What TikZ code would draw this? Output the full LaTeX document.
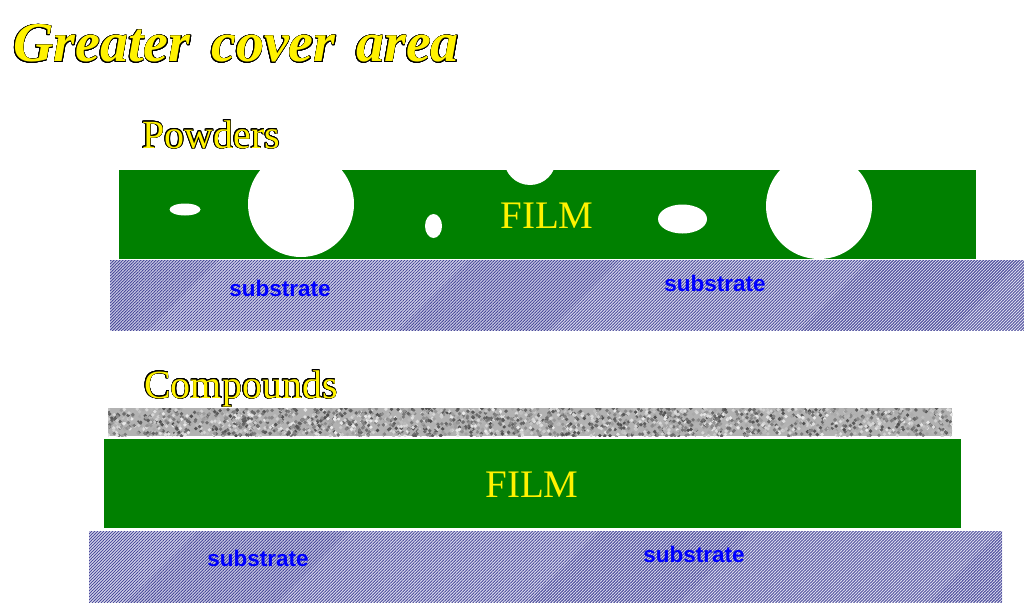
\documentclass[tikz,border=0pt]{standalone}
\usepackage{fontspec}
\setmainfont{Liberation Serif}
\newfontfamily\arialb{Liberation Sans}[Scale=1]
\usepackage{contour}
\usetikzlibrary{patterns,patterns.meta}
\definecolor{filmgreen}{RGB}{0,128,0}
\definecolor{hatchblue}{RGB}{75,75,155}
\definecolor{hatchbg}{RGB}{222,222,240}
\definecolor{labelblue}{RGB}{0,0,255}
\contourlength{0.6pt}
\contournumber{24}
\tikzset{
  film/.style={fill=filmgreen, draw=none},
  subst/.style={fill=hatchbg, draw=none, postaction={pattern={Lines[angle=45, distance=2.12pt, line width=0.95pt]}, pattern color=hatchblue}},
  hole/.style={fill=white, draw=none},
  filmtext/.style={text=yellow, font=\fontsize{39}{39}\selectfont, inner sep=0pt},
  sublabel/.style={text=labelblue, font=\arialb\bfseries\fontsize{22.5}{22.5}\selectfont, inner sep=0pt},
  heading/.style={font=\fontsize{40}{40}\selectfont, inner sep=0pt, anchor=base west},
}
\newcommand{\outl}[1]{\contour{black}{\textcolor{yellow}{#1}}}
\begin{document}
\begin{tikzpicture}[x=1pt,y=-1pt]
\useasboundingbox (0,0) rectangle (1024,602);
% title
\node[inner sep=0pt, anchor=base west, font=\bfseries\itshape\fontsize{56}{56}\selectfont] (title) at (13,62) {\outl{Greater\hspace{0.12em} cover\hspace{0.12em} area}};
% ===== Powders =====
\node[heading] (powders) at (142,148) {\outl{Powders}};
\path[subst] (110,260) rectangle (1024,330);
\fill[film] (119,170) rectangle (976,259);
\fill[hole] (185,209.5) ellipse [x radius=15.5, y radius=6];
\fill[hole] (301,204) circle (53);
\fill[hole] (433.5,226) ellipse [x radius=8.5, y radius=12];
\fill[hole] (530,159) circle (26);
\fill[hole] (682.5,219) ellipse [x radius=24.5, y radius=14.5];
\fill[hole] (819,206) circle (53);
\node[filmtext] (film1) at (547,216) {FILM};
\node[sublabel] (sub1a) at (280,288) {substrate};
\node[sublabel] (sub1b) at (715,283) {substrate};
% ===== Compounds =====
\node[heading] (compounds) at (144,398) {\outl{Compounds}};
\begin{scope}
  \clip (108,408) rectangle (952,436);
  \fill[black!30] (108,408) rectangle (952,436);
  \pgfmathsetseed{7}
  \foreach \k in {1,...,2400} {
    \pgfmathsetmacro\xx{108+844*rnd}
    \pgfmathsetmacro\yy{408+28*rnd}
    \pgfmathsetmacro\gg{int(8+62*rnd)}
    \fill[black!\gg] (\xx,\yy) circle (1.9);
  }
\end{scope}
\fill[film] (104,439) rectangle (961,528);
\path[subst] (89,531) rectangle (1002,602);
\node[filmtext] (film2) at (532,485) {FILM};
\node[sublabel] (sub2a) at (258,558) {substrate};
\node[sublabel] (sub2b) at (694,554) {substrate};
\end{tikzpicture}
\end{document}
